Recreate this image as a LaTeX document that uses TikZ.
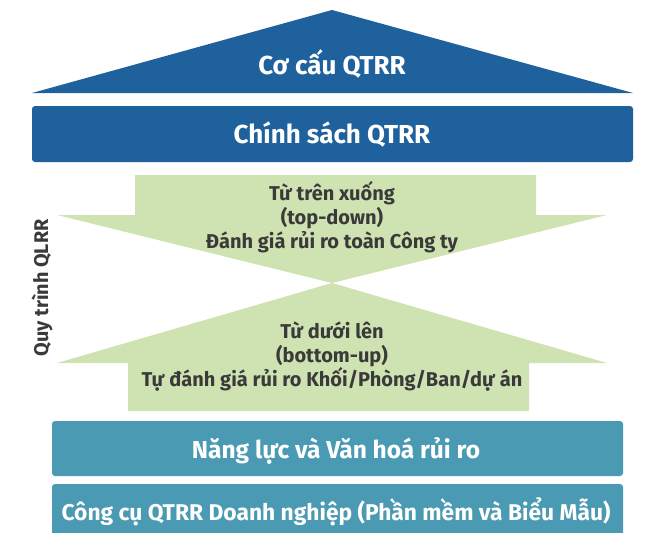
\documentclass[tikz,border=0pt]{standalone}
\usepackage{fontspec}
\setmainfont{Fira Sans}
\definecolor{dblue}{RGB}{31,97,157}
\definecolor{teal2}{RGB}{75,154,179}
\definecolor{lgreen}{RGB}{207,226,178}
\definecolor{tgray}{RGB}{58,58,58}
\tikzset{
  darkshape/.style={fill=dblue, draw=none},
  tealbox/.style={fill=teal2, draw=none, rounded corners=3pt},
  greenarrow/.style={fill=lgreen, draw=none},
  whitelabel/.style={text=white, font=\bfseries\fontsize{26}{30}\selectfont, inner sep=0pt},
  boxlabel/.style={text=white, font=\bfseries\fontsize{22.8}{26}\selectfont, inner sep=0pt},
  greenlabel/.style={text=tgray, font=\bfseries\fontsize{20}{24}\selectfont, align=center, inner sep=0pt},
  sidelabel/.style={text=tgray, font=\bfseries\fontsize{19.8}{23}\selectfont, inner sep=0pt}
}
\begin{document}
\begin{tikzpicture}[x=1pt,y=-1pt]
\useasboundingbox (0,0) rectangle (651,533);
% roof
\fill[darkshape] (32,93) -- (332,10) -- (633,93) -- cycle;
\node[whitelabel] (roof) at (332,64) {Cơ cấu QTRR};
% policy bar
\fill[darkshape, rounded corners=3pt] (32,106) rectangle (633,162);
\node[whitelabel] (policy) at (332,135) {Chính sách QTRR};
% down arrow
\fill[greenarrow] (135,175) -- (536,175) -- (536,215) -- (607,215) -- (332,283) -- (57,215) -- (135,215) -- cycle;
\node[greenlabel] (down) at (332,217) {Từ trên xuống\\(top-down)\\Đánh giá rủi ro toàn Công ty};
% up arrow
\fill[greenarrow] (128,411) -- (529,411) -- (529,363) -- (607,363) -- (332,283) -- (57,363) -- (128,363) -- cycle;
\node[greenlabel] (up) at (332,357) {Từ dưới lên\\(bottom-up)\\Tự đánh giá rủi ro Khối/Phòng/Ban/dự án};
% side label
\node[sidelabel, rotate=90] (side) at (42,288) {Quy trình QLRR};
% bottom boxes
\fill[tealbox] (52,421) rectangle (623,476);
\node[boxlabel, font=\bfseries\fontsize{24.5}{28}\selectfont] (culture) at (336,451) {Năng lực và Văn hoá rủi ro};
\fill[tealbox] (52,484) rectangle (623,545);
\node[boxlabel] (tools) at (336,512) {Công cụ QTRR Doanh nghiệp (Phần mềm và Biểu Mẫu)};
\end{tikzpicture}
\end{document}
